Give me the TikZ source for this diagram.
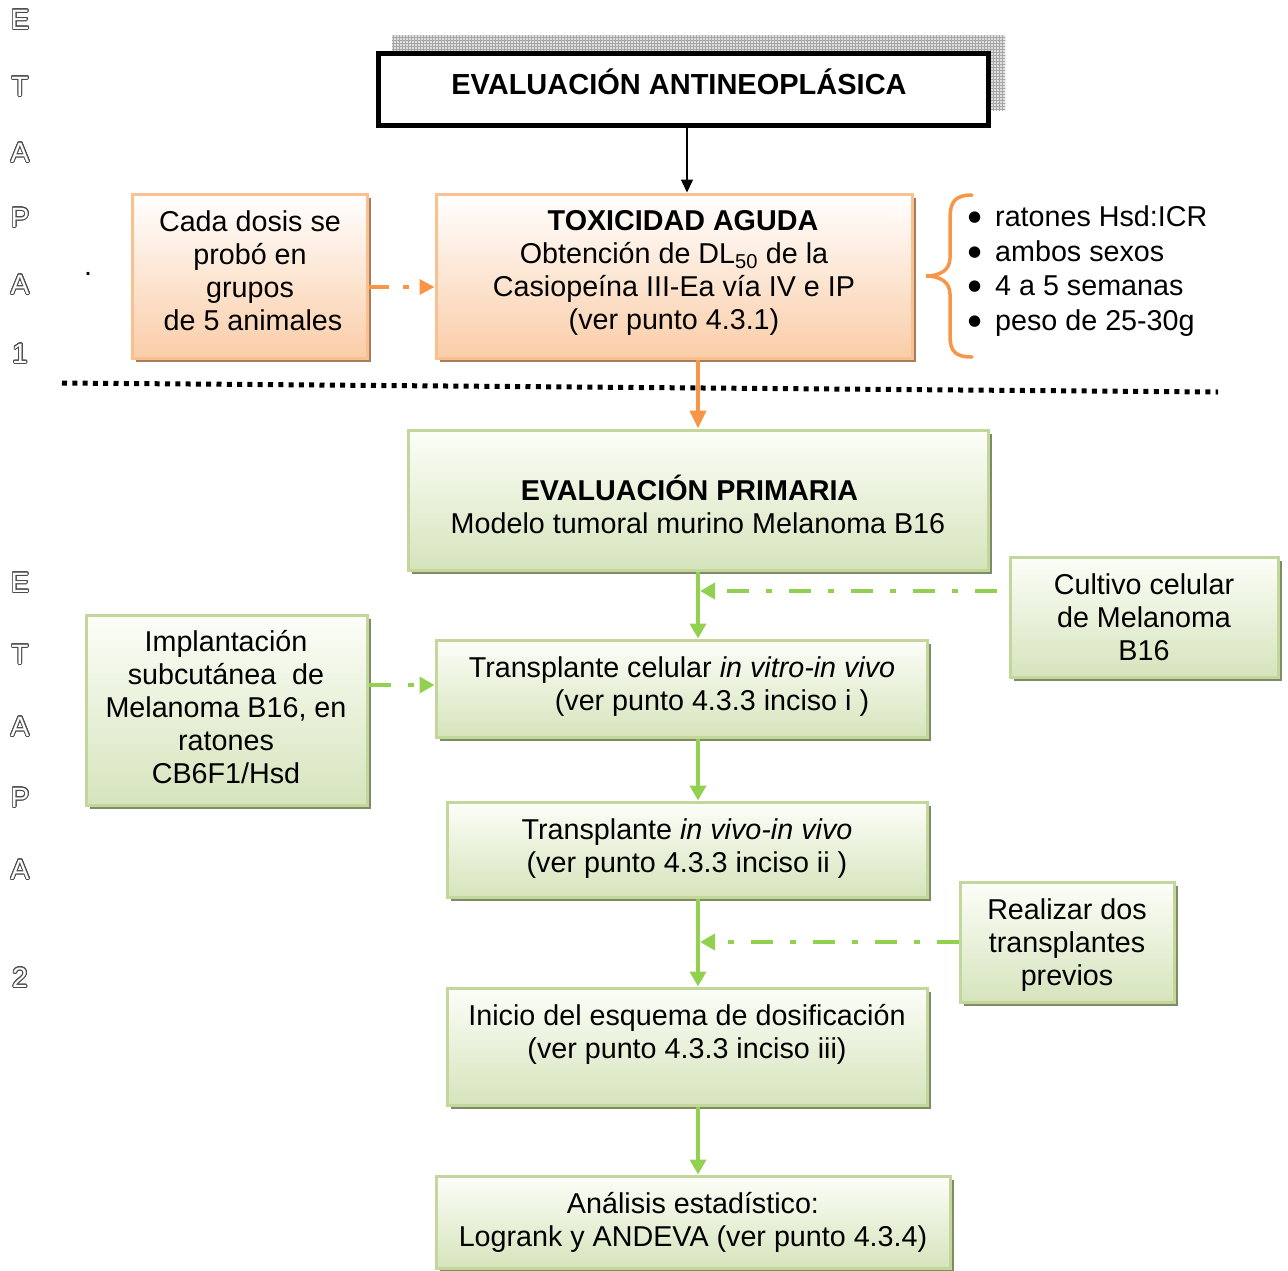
\documentclass[tikz,border=0pt]{standalone}
\usepackage{fontspec}
\setmainfont{Liberation Sans}
\newfontfamily\djv{DejaVu Sans}
\usepackage{contour}
\usetikzlibrary{arrows.meta,shadows,patterns,calc}
\definecolor{oline}{RGB}{250,192,144}
\definecolor{obot}{RGB}{250,205,168}
\definecolor{oshad}{RGB}{165,125,90}
\definecolor{oarrow}{RGB}{247,150,70}
\definecolor{gline}{RGB}{195,214,155}
\definecolor{gbot}{RGB}{214,228,188}
\definecolor{gtop}{RGB}{252,254,248}
\definecolor{gshad}{RGB}{125,140,100}
\definecolor{garrow}{RGB}{146,208,80}
\contourlength{0.9pt}
\contournumber{24}
\newcommand\bigbul{\makebox[27pt][l]{\raisebox{5pt}{\djv\fontsize{15}{20}\selectfont ●}}}
\begin{document}
\begin{tikzpicture}[x=1pt,y=-1pt,
  txt/.style={font=\fontsize{28.7}{33}\selectfont, align=center, inner sep=0pt},
  etapa/.style={font=\fontsize{28}{30}\selectfont, text=white, inner sep=0pt},
  obox/.style={draw=oline, line width=3pt, top color=white, bottom color=obot, inner sep=0pt,
     drop shadow={shadow xshift=4pt, shadow yshift=-4pt, fill=oshad, opacity=1}},
  gbox/.style={draw=gline, line width=3pt, top color=gtop, bottom color=gbot, inner sep=0pt,
     drop shadow={shadow xshift=4pt, shadow yshift=-4pt, fill=gshad, opacity=1}},
  barr/.style={draw=black, line width=1.5pt, -{Triangle[width=12pt,length=13pt]}},
  oarr/.style={draw=oarrow, line width=4pt, -{Triangle[width=16pt,length=18pt]}},
  odash/.style={draw=oarrow, line width=4.5pt, dash pattern=on 20pt off 14pt on 6pt off 13pt, -{Triangle[width=15pt,length=15pt]}},
  garr/.style={draw=garrow, line width=4.5pt, -{Triangle[width=16pt,length=15pt]}},
  gdash/.style={draw=garrow, line width=4.5pt, dash pattern=on 22pt off 17pt on 6pt off 17pt, -{Triangle[width=16pt,length=15pt]}},
]
\useasboundingbox (0,0) rectangle (1288,1270);

% ETAPA letters
\foreach \c/\y [count=\i] in {E/20,T/87,A/153,P/218,A/285,1/354}
  \node[etapa] (ea\i) at (20,\y) {\contour{black!70}{\c}};
\foreach \c/\y [count=\i] in {E/583,T/655,A/727,P/798,A/870,2/978}
  \node[etapa] (eb\i) at (20,\y) {\contour{black!70}{\c}};
\node[txt] (dot) at (88,274) {.};

% title
\fill[black!12] (392,35) rectangle (1005,110);
\fill[pattern=grid, pattern color=black!35] (392,35) rectangle (1005,110);
\node[draw=black, line width=5pt, fill=white, minimum width=610pt, minimum height=72pt, inner sep=0pt] (title) at (683,89) {};
\node[txt, font=\bfseries\fontsize{29}{33}\selectfont] (title-t) at (679,82) {EVALUACIÓN ANTINEOPLÁSICA};

% orange boxes
\node[obox, minimum width=476pt, minimum height=164pt] (tox) at (674,276) {};
\node[txt] (tox-t) at (674,272.5) {\hspace*{18pt}\textbf{TOXICIDAD AGUDA}\\Obtención de DL\textsubscript{50} de la\\Casiopeína III-Ea vía IV e IP\\(ver punto 4.3.1)};
\node[obox, minimum width=235pt, minimum height=164pt] (cada) at (249.5,276) {};
\node[txt] (cada-t) at (250,271) {Cada dosis se\\probó en\\grupos\\\hspace*{6pt}de 5 animales};

% brace and bullets
\draw[oarrow, line width=3.5pt, line cap=round] (972,195) .. controls (956,195) and (950,201) .. (950,218) -- (950,258) .. controls (950,270) and (940,276) .. (926,276) .. controls (940,276) and (950,282) .. (950,294) -- (950,336) .. controls (950,352) and (956,357) .. (972,357);
\node[txt, align=left, anchor=west, font=\fontsize{28.7}{34.7}\selectfont] (bul) at (968,271) {\bigbul ratones Hsd:ICR\\\bigbul ambos sexos\\\bigbul 4 a 5 semanas\\\bigbul peso de 25-30g};

% separator
\coordinate (dl) at (62,383);
\coordinate (dr) at (1218,392);
\draw[line width=5pt, dash pattern=on 5pt off 5.3pt] (dl) -- (dr);

% green boxes
\node[gbox, minimum width=580pt, minimum height=140pt] (prim) at (698,500) {};
\node[txt] (prim-t) at (698,504) {\textbf{EVALUACIÓN PRIMARIA}\hspace*{17pt}\\Modelo tumoral murino Melanoma B16};
\node[gbox, minimum width=268pt, minimum height=120pt] (cult) at (1144,617) {};
\node[txt] (cult-t) at (1144,617) {Cultivo celular\\de Melanoma\\B16};
\node[gbox, minimum width=491pt, minimum height=97pt] (tcel) at (681.5,688.5) {};
\node[txt] (tcel-t) at (682,687) {Transplante celular \textit{in vitro-in vivo}\\\hspace*{60pt}(ver punto 4.3.3 inciso i )};
\node[gbox, minimum width=281pt, minimum height=190pt] (impl) at (226.5,710) {};
\node[txt] (impl-t) at (226,707) {Implantación\\subcutánea\ \ de\\Melanoma B16, en\\ratones\\CB6F1/Hsd};
\node[gbox, minimum width=480pt, minimum height=95pt] (tviv) at (687,849.5) {};
\node[txt] (tviv-t) at (687,849) {Transplante \textit{in vivo-in vivo}\\(ver punto 4.3.3 inciso ii )};
\node[gbox, minimum width=214pt, minimum height=120pt] (real) at (1067,942) {};
\node[txt] (real-t) at (1067,945) {Realizar dos\\transplantes\\previos};
\node[gbox, minimum width=480pt, minimum height=117pt] (ini) at (687,1046.5) {};
\node[txt] (ini-t) at (687,1034) {Inicio del esquema de dosificación\\(ver punto 4.3.3 inciso iii)};
\node[gbox, minimum width=514pt, minimum height=92pt] (ana) at (693,1222) {};
\node[txt] (ana-t) at (693,1222.5) {Análisis estadístico:\\Logrank y ANDEVA (ver punto 4.3.4)};

% connectors
\draw[barr] ([xshift=4pt]title.south) -- ([xshift=13pt]tox.north);
\draw[oarr] ([xshift=24pt]tox.south) -- (prim.north);
\draw[odash] ([yshift=-11pt]cada.east) -- ([yshift=-11pt]tox.west);
\draw[garr] (prim.south) -- ([xshift=16.5pt]tcel.north);
\draw[garr] ([xshift=16.5pt]tcel.south) -- ([xshift=11pt]tviv.north);
\draw[garr] ([xshift=11pt]tviv.south) -- ([xshift=11pt]ini.north);
\draw[garr] ([xshift=11pt]ini.south) -- ([xshift=5pt]ana.north);
\coordinate (m1) at (700,591);
\draw[gdash] ([xshift=-12pt,yshift=26pt]cult.west) -- (m1);
\draw[gdash] ([yshift=25pt]impl.east) -- ([yshift=3.5pt]tcel.west);
\coordinate (m2) at (700,942);
\draw[gdash] (real.west) -- (m2);
\end{tikzpicture}
\end{document}
